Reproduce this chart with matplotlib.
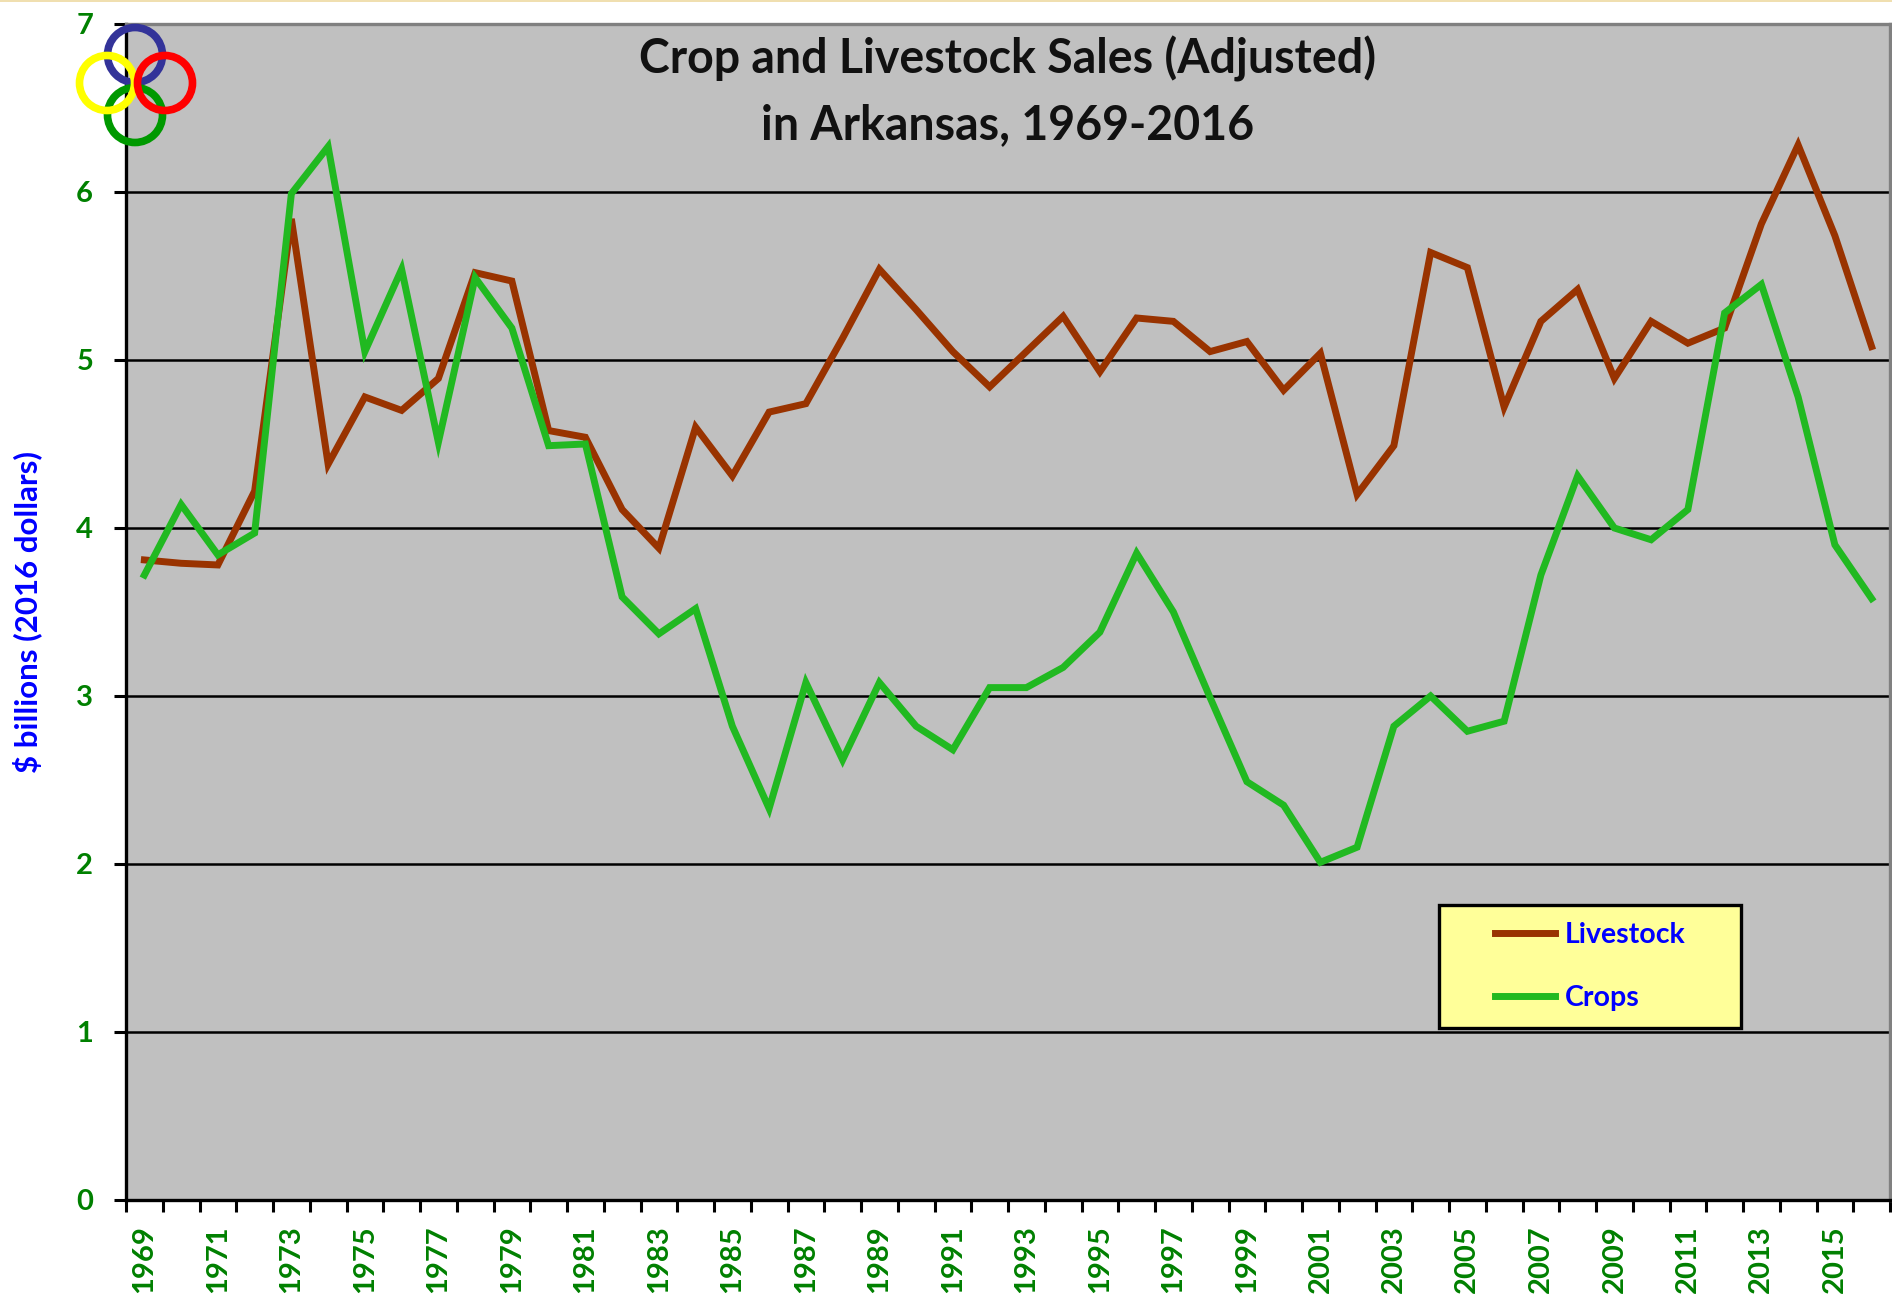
# Crop and Livestock Sales (Adjusted) in Arkansas, 1969-2016
import matplotlib
matplotlib.use("Agg")
import matplotlib.pyplot as plt
from matplotlib.patches import Circle, Rectangle

# Data (billions of 2016 dollars)
years = list(range(1969, 2017))
livestock = [3.81, 3.79, 3.78, 4.22, 5.84, 4.38, 4.78, 4.70,
             4.89, 5.52, 5.47, 4.58, 4.54, 4.11, 3.88, 4.60,
             4.31, 4.69, 4.74, 5.13, 5.54, 5.30, 5.05, 4.84,
             5.05, 5.26, 4.93, 5.25, 5.23, 5.05, 5.11, 4.82,
             5.04, 4.20, 4.49, 5.64, 5.55, 4.72, 5.23, 5.42,
             4.89, 5.23, 5.10, 5.19, 5.81, 6.28, 5.74, 5.08]
crops = [3.72, 4.14, 3.84, 3.97, 5.99, 6.27, 5.05, 5.54,
         4.51, 5.49, 5.19, 4.49, 4.50, 3.59, 3.37, 3.52,
         2.82, 2.33, 3.08, 2.62, 3.08, 2.82, 2.68, 3.05,
         3.05, 3.17, 3.38, 3.85, 3.50, 2.99, 2.49, 2.35,
         2.01, 2.10, 2.82, 3.00, 2.79, 2.85, 3.72, 4.31,
         4.00, 3.93, 4.11, 5.28, 5.45, 4.78, 3.90, 3.58]
label_years = years[::2]
y_ticks = [0, 1, 2, 3, 4, 5, 6, 7]

W, H = 1892, 1297
fig = plt.figure(figsize=(W / 100, H / 100), dpi=100)
fig.patch.set_facecolor("white")

# main axes in pixel layout
left, right, top, bottom = 126, 1890, 24, 1200
ax = fig.add_axes([left / W, 1 - bottom / H, (right - left) / W, (bottom - top) / H])
ax.set_facecolor("#C0C0C0")

ax.plot(years, livestock, color="#993300", lw=5, label="Livestock", solid_joinstyle="miter")
ax.plot(years, crops, color="#21B921", lw=5, label="Crops", solid_joinstyle="miter")

ax.set_xlim(1968.5, 2016.5)
ax.set_ylim(0, 7)

# gridlines
ax.set_axisbelow(True)
ax.set_yticks(y_ticks)
ax.yaxis.grid(True, color="black", lw=1.8)
tick_font = dict(family="Lato", weight="bold", size=21)
ax.set_yticklabels([str(v) for v in y_ticks], color="#008000", fontdict=tick_font)
ax.tick_params(axis="y", direction="out", length=8.6, width=2.2, pad=15, color="black")

# x: tick marks at year boundaries, labels at every other year
ax.set_xticks([y - 0.5 for y in years] + [years[-1] + 0.5])
ax.set_xticklabels([])
ax.set_xticks(label_years, minor=True)
ax.set_xticklabels([str(y) for y in label_years], minor=True, rotation=90,
                   color="#008000", fontdict=tick_font, va="top", ha="center")
ax.tick_params(axis="x", which="major", direction="out", length=8.6, width=2.2, color="black")
ax.tick_params(axis="x", which="minor", length=0, pad=18)

for s in ["left", "bottom"]:
    ax.spines[s].set_color("black")
    ax.spines[s].set_linewidth(2.4)
for s in ["top", "right"]:
    ax.spines[s].set_color("#808080")
    ax.spines[s].set_linewidth(2.4)

ax.set_ylabel("$ billions (2016 dollars)", color="#0000FF", family="Lato",
              weight="bold", size=22.5)
ax.yaxis.set_label_coords(-(left - 42) / (right - left), 0.5)

# title
fig.text(1008 / W, 1 - 59 / H, "Crop and Livestock Sales (Adjusted)", ha="center", va="center",
         family="Lato", weight="bold", size=33.5, color="#111111")
fig.text(1008 / W, 1 - 125 / H, "in Arkansas, 1969-2016", ha="center", va="center",
         family="Lato", weight="bold", size=33.5, color="#111111")

# legend box
bx0, bx1, by0, by1 = 1439, 1741, 905, 1028
ax.add_patch(Rectangle(((bx0 - left) / (right - left), (bottom - by1) / (bottom - top)),
                       (bx1 - bx0) / (right - left), (by1 - by0) / (bottom - top),
                       transform=ax.transAxes, facecolor="#FFFF99", edgecolor="black",
                       lw=2.4, zorder=4))
leg = ax.legend(loc="center", frameon=False,
                bbox_to_anchor=(((bx0 + bx1) / 2 - left) / (right - left),
                                (bottom - (by0 + by1) / 2) / (bottom - top)),
                prop=dict(family="Lato", weight="bold", size=20.5),
                handlelength=2.1, handletextpad=0.35, labelspacing=1.3)
for t in leg.get_texts():
    t.set_color("#0000FF")
leg.set_zorder(5)

# ring logo in the top-left corner
lax = fig.add_axes([55 / W, 1 - 165 / H, 160 / W, 160 / H])
lax.set_xlim(55, 215)
lax.set_ylim(165, 5)
lax.axis("off")
rings = [((135, 55), "#333399"), ((135, 115), "#009900"),
         ((107, 83), "#FFFF00"), ((165, 83), "#FF0000")]
for (cx, cy), c in rings:
    lax.add_patch(Circle((cx, cy), 27.5, fill=False, edgecolor=c, lw=5.5))

# thin beige strip along the top edge
fig.add_artist(Rectangle((0, 1 - 2 / H), 1, 2 / H, transform=fig.transFigure,
                         facecolor="#F0DFB0", edgecolor="none"))

fig.savefig("out.png", dpi=100)
